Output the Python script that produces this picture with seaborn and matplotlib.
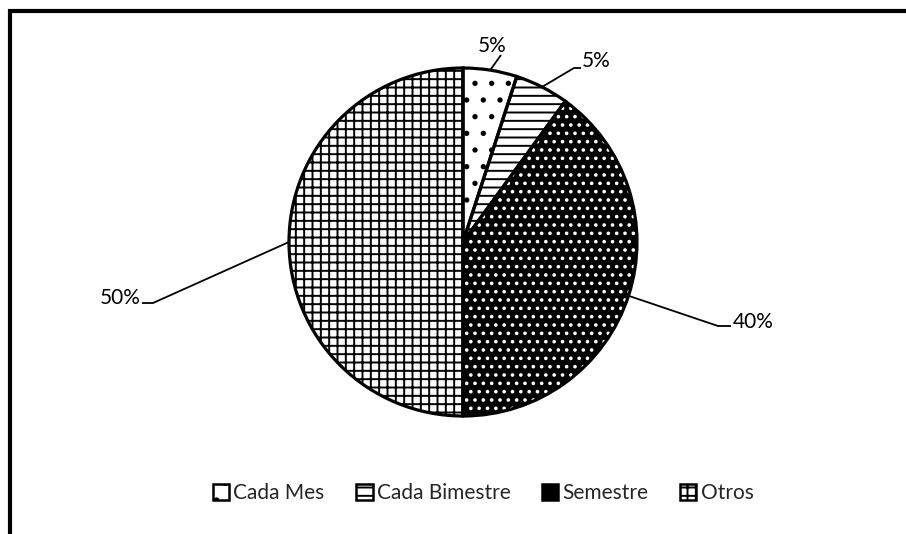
import numpy as np
import matplotlib
matplotlib.use('Agg')
import matplotlib.pyplot as plt
import matplotlib.patches as mpatches
import seaborn as sns

# data
categories = ['Cada Mes', 'Cada Bimestre', 'Semestre', 'Otros']
shares = [5, 5, 40, 50]
pct_labels = ['5%', '5%', '40%', '50%']

sns.set_theme(style='white')
plt.rcParams['font.family'] = ['Lato', 'DejaVu Sans']
plt.rcParams['hatch.linewidth'] = 1.4

W, H = 906, 534
fig = plt.figure(figsize=(W / 100, H / 100), dpi=100)
ax = fig.add_axes([0, 0, 1, 1])

cx, cy, r = 463, H - 242, 174
hatches = ['.', '--', '..', '++']
faces = ['white', 'white', 'black', 'white']
hcols = ['black', 'black', 'white', 'black']

# filled wedges with hatches
wedges, _ = ax.pie(shares, startangle=90, counterclock=False, center=(cx, cy),
                   radius=r, frame=True)
for w, hatch, fc, hc in zip(wedges, hatches, faces, hcols):
    w.set_facecolor(fc)
    w.set_edgecolor(hc)
    w.set_hatch(hatch)
    w.set_linewidth(0)

# outlines
ax.pie(shares, startangle=90, counterclock=False, center=(cx, cy),
       radius=r, frame=True,
       wedgeprops=dict(fill=False, edgecolor='black', linewidth=2.3))
ax.set_xlim(0, W)
ax.set_ylim(0, H)
ax.set_aspect('equal')
ax.axis('off')

# leader lines and labels (elbow, tail, text pos, alignment) in pixel layout
layout = [
    ((501, 55), (501, 55), (492, 46), 'center'),
    ((574, 68), (581, 68), (582, 61), 'left'),
    ((718, 326), (731, 326), (733, 322), 'left'),
    ((153, 303), (142, 303), (141, 298), 'right'),
]
for w, lab, (elb, tail, tpos, ha) in zip(wedges, pct_labels, layout):
    mid = np.deg2rad((w.theta1 + w.theta2) / 2)
    ex, ey = cx + r * np.cos(mid), cy + r * np.sin(mid)
    ax.plot([ex, elb[0], tail[0]], [ey, H - elb[1], H - tail[1]],
            color='black', lw=1.3, solid_capstyle='butt')
    ax.text(tpos[0], H - tpos[1], lab, ha=ha, va='center', fontsize=15, color='black')

# legend
handles = []
for hatch, fc, hc in zip(hatches, faces, hcols):
    handles.append(mpatches.Patch(facecolor=fc, edgecolor='black', hatch=hatch, linewidth=1.8))
leg = ax.legend(handles, categories, loc='center', bbox_to_anchor=(483 / W, 1 - 493 / H),
                ncol=4, frameon=False, fontsize=15, handlelength=0.8, handleheight=0.8,
                handletextpad=0.2, columnspacing=1.5)

# chart area border (top and left edges visible)
fig.add_artist(mpatches.Rectangle((9.5 / W, -0.2), 1.2, 1.2 - 10.5 / H,
                                  transform=fig.transFigure, fill=False,
                                  edgecolor='black', linewidth=3))

fig.savefig('out.png', dpi=100)
